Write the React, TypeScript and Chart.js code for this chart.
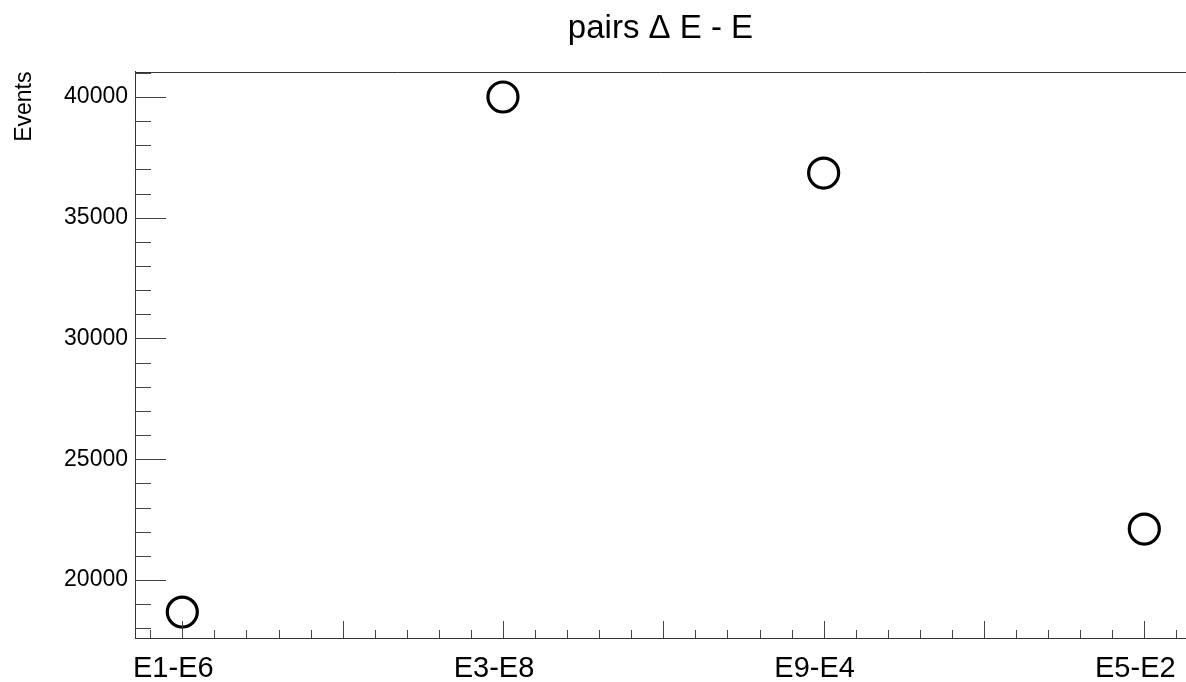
import React, { useEffect, useRef } from "react";
import { Chart, registerables } from "chart.js";

Chart.register(...registerables);

const categories = ["E1-E6", "E3-E8", "E9-E4", "E5-E2"];
const events = [18670, 40000, 36850, 22110];
const yMajorStep = 5000;
const yMinorStep = 1000;
const xMinorStep = 0.1;
const yMin = 17598;
const yMax = 41056;
const xMin = -0.1475;
const xMax = 3.13;

const FONT = "'Liberation Sans', Arial, Helvetica, sans-serif";

function stepTicks(min: number, max: number, step: number) {
  const out: { value: number }[] = [];
  const start = Math.ceil(min / step - 1e-9);
  const end = Math.floor(max / step + 1e-9);
  for (let k = start; k <= end; k++) {
    out.push({ value: Math.round(k * step * 1e6) / 1e6 });
  }
  return out;
}

const innerTicks = {
  id: "innerTicks",
  afterDraw(chart: any) {
    const { ctx, chartArea } = chart;
    const xs = chart.scales.x;
    const ys = chart.scales.y;
    ctx.save();
    ctx.strokeStyle = "#444";
    ctx.lineWidth = 1;
    ctx.beginPath();
    for (const t of ys.ticks) {
      const py = Math.round(ys.getPixelForValue(t.value)) + 0.5;
      const major = Math.abs(t.value % yMajorStep) < 1e-6;
      const len = major ? 31 : 16;
      ctx.moveTo(chartArea.left, py);
      ctx.lineTo(chartArea.left + len, py);
    }
    for (const t of xs.ticks) {
      const px = Math.round(xs.getPixelForValue(t.value)) + 0.5;
      const v2 = t.value * 2;
      const major = Math.abs(v2 - Math.round(v2)) < 1e-6;
      const len = major ? 17 : 8;
      ctx.moveTo(px, chartArea.bottom);
      ctx.lineTo(px, chartArea.bottom - len);
    }
    ctx.stroke();
    ctx.beginPath();
    ctx.strokeStyle = "#333";
    ctx.moveTo(chartArea.left, Math.round(chartArea.top) + 0.5);
    ctx.lineTo(chartArea.right, Math.round(chartArea.top) + 0.5);
    ctx.stroke();
    ctx.restore();
  },
};

export default function App() {
  const ref = useRef<HTMLCanvasElement | null>(null);
  useEffect(() => {
    document.body.style.margin = "0";
    const canvas = ref.current!;
    const chart = new Chart(canvas, {
      type: "scatter",
      data: {
        datasets: [
          {
            label: "Events",
            data: events.map((v, i) => ({ x: i, y: v })),
            pointRadius: 15,
            pointHoverRadius: 15,
            borderWidth: 3.2,
            pointBorderWidth: 3.2,
            borderColor: "#000",
            pointBorderColor: "#000",
            backgroundColor: "rgba(0,0,0,0)",
            pointBackgroundColor: "rgba(0,0,0,0)",
            showLine: false,
          } as any,
        ],
      },
      options: {
        responsive: false,
        animation: false,
        layout: { padding: 0, autoPadding: false },
        plugins: {
          legend: { display: false },
          tooltip: { enabled: false },
          title: {
            display: true,
            text: "pairs Δ E - E",
            color: "#000",
            fullSize: false,
            font: { family: FONT, size: 33, weight: "normal" },
            padding: { top: 9, bottom: 22.9 },
          },
        },
        scales: {
          x: {
            type: "linear",
            position: "bottom",
            min: xMin,
            max: xMax,
            afterBuildTicks: (s: any) => {
              s.ticks = stepTicks(xMin, xMax, xMinorStep);
            },
            afterFit: (s: any) => {
              s.height = 44;
              s.paddingLeft = 0;
              s.paddingRight = 0;
            },
            grid: { display: false, drawTicks: false },
            border: { display: true, color: "#333", width: 1 },
            ticks: {
              autoSkip: false,
              maxRotation: 0,
              minRotation: 0,
              padding: 13.5,
              labelOffset: -9,
              color: "#000",
              font: { family: FONT, size: 29 },
              callback: (v: any) => {
                const r = Math.round(v);
                return Math.abs(v - r) < 1e-6 && r >= 0 && r < categories.length
                  ? categories[r]
                  : "";
              },
            },
          },
          y: {
            type: "linear",
            position: "left",
            min: yMin,
            max: yMax,
            afterBuildTicks: (s: any) => {
              s.ticks = stepTicks(yMin, yMax, yMinorStep);
            },
            afterFit: (s: any) => {
              s.width = 135;
              s.paddingTop = 0;
              s.paddingBottom = 0;
            },
            grid: { display: false, drawTicks: false },
            border: { display: true, color: "#333", width: 1 },
            title: {
              display: true,
              text: "Events",
              align: "end",
              color: "#000",
              font: { family: FONT, size: 23 },
              padding: { top: 11, bottom: 0 },
            },
            ticks: {
              autoSkip: false,
              padding: 7,
              color: "#000",
              font: { family: FONT, size: 23 },
              callback: (v: any) =>
                Math.abs(v % yMajorStep) < 1e-6 ? String(Math.round(v)) : "",
            },
          },
        },
      },
      plugins: [innerTicks],
    });
    return () => chart.destroy();
  }, []);
  return (
    <div style={{ width: 1186, height: 682, background: "#fff" }}>
      <canvas ref={ref} width={1186} height={682} style={{ display: "block" }} />
    </div>
  );
}
